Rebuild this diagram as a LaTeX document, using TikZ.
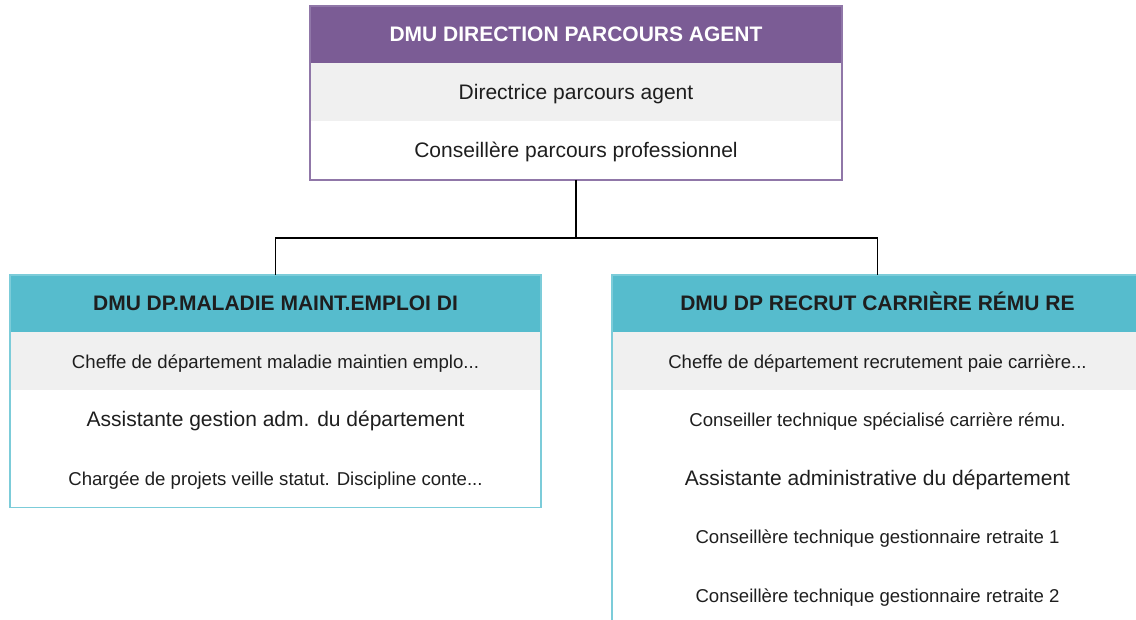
\documentclass[tikz,border=0pt]{standalone}
\usepackage{fontspec}
\setmainfont{Liberation Sans}
\definecolor{HeadPurple}{HTML}{7B5C95}
\definecolor{EdgePurple}{HTML}{9077A8}
\definecolor{HeadTeal}{HTML}{56BCCD}
\definecolor{EdgeTeal}{HTML}{7CCCD9}
\definecolor{RowGray}{HTML}{F0F0F0}
\definecolor{TextDark}{HTML}{1E1E1E}
\usetikzlibrary{positioning}

\tikzset{
  cell/.style = {inner sep=0pt, outer sep=0pt, text=TextDark,
                 text height=0.9em, text depth=0.2em,
                 minimum height=29.25pt, font=\fontsize{10.5}{12}\selectfont},
  small/.style = {font=\fontsize{9.3}{11}\selectfont},
  head/.style = {cell, minimum height=28.5pt, font=\bfseries\fontsize{10.5}{12}\selectfont},
}

\begin{document}
\begin{tikzpicture}[x=0.5pt, y=-0.5pt]

\useasboundingbox (0,0) rectangle (1136,620);
\clip (0,0) rectangle (1136,620);

% top box
\node[head, fill=HeadPurple, text=white, minimum width=266pt] (top) at (576,34.5)
    {DMU DIRECTION PARCOURS AGENT};
\node[cell, fill=RowGray, minimum width=266pt, below=0pt of top] (top1)
    {Directrice parcours agent};
\node[cell, minimum width=266pt, below=0pt of top1] (top2)
    {Conseillère parcours professionnel};
\draw[EdgePurple, line width=0.6pt] (top.north west) rectangle (top2.south east);

% left box
\node[head, fill=HeadTeal, minimum width=265.5pt] (left) at (275.5,303.5)
    {DMU DP.MALADIE MAINT.EMPLOI DI};
\node[cell, small, fill=RowGray, minimum width=265.5pt, below=0pt of left] (left1)
    {Cheffe de département maladie maintien emplo...};
\node[cell, minimum width=265.5pt, below=0pt of left1] (left2)
    {Assistante gestion adm. du département};
\node[cell, small, minimum width=265.5pt, below=0pt of left2] (left3)
    {Chargée de projets veille statut. Discipline conte...};
\draw[EdgeTeal, line width=0.6pt] (left.north west) rectangle (left3.south east);

% right box
\node[head, fill=HeadTeal, minimum width=265.5pt] (right) at (877.5,303.5)
    {DMU DP RECRUT CARRIÈRE RÉMU RE};
\node[cell, small, fill=RowGray, minimum width=265.5pt, below=0pt of right] (right1)
    {Cheffe de département recrutement paie carrière...};
\node[cell, small, minimum width=265.5pt, below=0pt of right1] (right2)
    {Conseiller technique spécialisé carrière rému.};
\node[cell, minimum width=265.5pt, below=0pt of right2] (right3)
    {Assistante administrative du département};
\node[cell, small, minimum width=265.5pt, below=0pt of right3] (right4)
    {Conseillère technique gestionnaire retraite 1};
\node[cell, small, minimum width=265.5pt, below=0pt of right4] (right5)
    {Conseillère technique gestionnaire retraite 2};
\draw[EdgeTeal, line width=0.6pt] (right.north west) rectangle (right5.south east);

% links
\coordinate (fork) at (576,238);
\draw[line width=0.6pt] (top2.south) -- (fork);
\draw[line width=0.6pt] (fork) -| (left.north);
\draw[line width=0.6pt] (fork) -| (right.north);

\end{tikzpicture}
\end{document}
